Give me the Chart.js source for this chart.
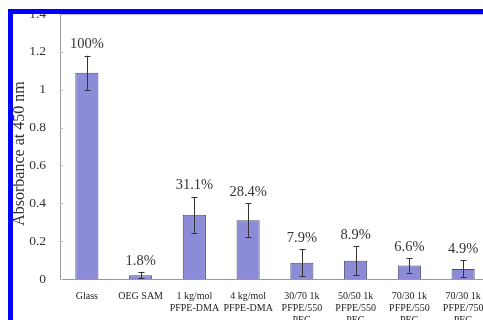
<!DOCTYPE html>
<html>
<head>
<meta charset="utf-8">
<script src="https://cdn.jsdelivr.net/npm/chart.js@4/dist/chart.umd.min.js"></script>
<style>
  html, body { margin: 0; padding: 0; background: #fff; }
  #wrap { position: relative; width: 483px; height: 320px; overflow: hidden; background: #fff; }
  #wrap canvas { position: absolute; left: 0; top: -8px; }
  #frame {
    position: absolute; left: 8px; top: 9px; width: 473px; height: 306px;
    border-top: 5px solid #0000ff; border-left: 5px solid #0000ff;
    border-bottom: 2px solid #1a2cff; border-right: 1px solid #9a9aff;
    box-sizing: content-box; pointer-events: none;
  }
</style>
</head>
<body>
<div id="wrap">
  <canvas id="chart" width="492" height="328"></canvas>
  <div id="frame"></div>
</div>
<script>
var surfaces = ["Glass", "OEG SAM", ["1 kg/mol", "PFPE-DMA"], ["4 kg/mol", "PFPE-DMA"],
  ["30/70 1k", "PFPE/550", "PEG"], ["50/50 1k", "PFPE/550", "PEG"],
  ["70/30 1k", "PFPE/550", "PEG"], ["70/30 1k", "PFPE/750", "PEG"]];
var absorbance = [1.09, 0.0196, 0.339, 0.31, 0.086, 0.097, 0.072, 0.0534];
var absorbanceErr = [0.09, 0.016, 0.095, 0.09, 0.07, 0.075, 0.038, 0.045];
var relative = ["100%", "1.8%", "31.1%", "28.4%", "7.9%", "8.9%", "6.6%", "4.9%"];
var yTitle = "Absorbance at 450 nm";

var serif = "'Liberation Serif', 'DejaVu Serif', serif";

// error bars, inside ticks on the y axis, % labels and the axis title
var extras = {
  id: "extras",
  afterDatasetsDraw: function(chart) {
    var ctx = chart.ctx, y = chart.scales.y, area = chart.chartArea;
    var bars = chart.getDatasetMeta(0).data;
    ctx.save();
    ctx.strokeStyle = "#bbb";
    ctx.lineWidth = 1;
    ctx.beginPath();
    ctx.moveTo(area.left, area.top + 0.5);
    ctx.lineTo(area.right, area.top + 0.5);
    y.ticks.forEach(function(t) {
      var py = Math.round(y.getPixelForValue(t.value)) + 0.5;
      ctx.moveTo(area.left, py);
      ctx.lineTo(area.left + 3, py);
    });
    ctx.stroke();

    ctx.strokeStyle = "#333";
    ctx.fillStyle = "#333";
    ctx.font = "14.5px " + serif;
    ctx.textAlign = "center";
    ctx.textBaseline = "bottom";
    bars.forEach(function(bar, i) {
      var x = Math.round(bar.x) + 0.5;
      var hi = y.getPixelForValue(absorbance[i] + absorbanceErr[i]);
      var lo = y.getPixelForValue(Math.max(absorbance[i] - absorbanceErr[i], 0));
      ctx.beginPath();
      ctx.moveTo(x, hi); ctx.lineTo(x, lo);
      ctx.moveTo(x - 3, Math.round(hi) + 0.5); ctx.lineTo(x + 3, Math.round(hi) + 0.5);
      ctx.moveTo(x - 3, Math.round(lo) + 0.5); ctx.lineTo(x + 3, Math.round(lo) + 0.5);
      ctx.stroke();
      ctx.fillText(relative[i], bar.x, hi - 4);
    });

    // rotated y title, sitting a little below the axis middle
    ctx.font = "16px " + serif;
    ctx.textBaseline = "middle";
    ctx.translate(20, (area.top + area.bottom) / 2 + 7);
    ctx.rotate(-Math.PI / 2);
    ctx.fillText(yTitle, 0, 0);
    ctx.restore();
  }
};

new Chart(document.getElementById("chart"), {
  type: "bar",
  data: {
    labels: surfaces,
    datasets: [{
      data: absorbance,
      backgroundColor: "#8b8bd8",
      borderColor: "#4c4c70",
      borderWidth: 1,
      barPercentage: 0.43,
      categoryPercentage: 1
    }]
  },
  options: {
    responsive: false,
    animation: false,
    layout: { padding: { top: 6, right: 2, left: 0, bottom: 0 } },
    plugins: { legend: { display: false }, tooltip: { enabled: false } },
    scales: {
      x: {
        grid: { display: false },
        border: { color: "#999", width: 1 },
        ticks: { color: "#222", padding: 3, maxRotation: 0, autoSkip: false,
                 font: { family: serif, size: 10 } },
        afterFit: function(s) { s.height = 41; }
      },
      y: {
        min: 0, max: 1.4,
        grid: { display: false, drawTicks: false },
        border: { color: "#999", width: 1 },
        ticks: { stepSize: 0.2, color: "#333", padding: 14,
                 font: { family: serif, size: 13.5 },
                 callback: function(v) { return String(Number(v.toFixed(1))); } },
        afterFit: function(s) { s.width = 60; }
      }
    }
  },
  plugins: [extras]
});
</script>
</body>
</html>
